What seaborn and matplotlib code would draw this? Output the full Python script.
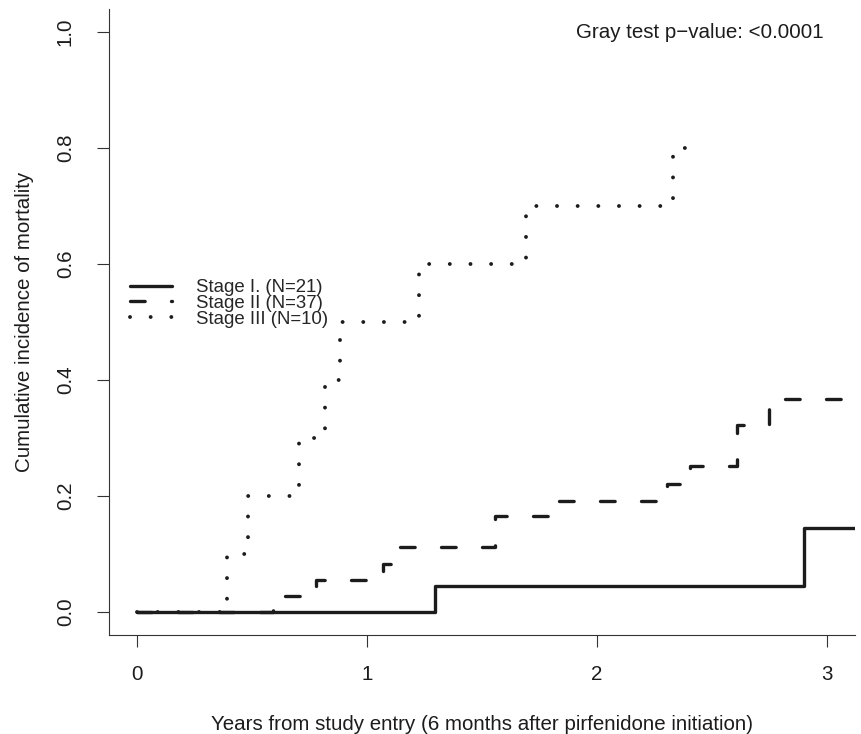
import numpy as np
import pandas as pd
import seaborn as sns
import matplotlib.pyplot as plt

# cumulative incidence step curves (years, CIF)
stage1_time = [0.0, 1.296, 2.90, 3.3]
stage1_cif = [0.0, 0.045, 0.145, 0.145]

stage2_time = [0.0, 0.593, 0.779, 1.071, 1.135, 1.557, 1.826, 2.304, 2.404, 2.606, 2.747, 3.3]
stage2_cif = [0.0, 0.027, 0.055, 0.083, 0.112, 0.165, 0.191, 0.220, 0.252, 0.323, 0.368, 0.368]

stage3_time = [0.0, 0.394, 0.484, 0.704, 0.819, 0.885, 1.226, 1.691, 2.328, 2.45]
stage3_cif = [0.0, 0.1, 0.2, 0.3, 0.4, 0.5, 0.6, 0.7, 0.8, 0.8]

labels = ["Stage I. (N=21)", "Stage II (N=37)", "Stage III (N=10)"]
x_ticks = [0, 1, 2, 3]
y_ticks = [0.0, 0.2, 0.4, 0.6, 0.8, 1.0]

sns.set_style("ticks")
plt.rcParams["font.family"] = ["Liberation Sans", "DejaVu Sans"]
fs = 14.8
plt.rcParams["font.size"] = fs

ink = "#1c1c1c"
fig = plt.figure(figsize=(8.62, 7.34), dpi=100)
ax = fig.add_axes([109 / 862, 1 - 635 / 734, (855 - 109) / 862, (635 - 9) / 734])

styles = ["-", (0, (4.4, 7.9)), (0, (0.01, 5.3))]
widths = [2.4, 2.4, 2.8]
series = [(stage1_time, stage1_cif), (stage2_time, stage2_cif), (stage3_time, stage3_cif)]
for (t, c), lab, ls, w in zip(series, labels, styles, widths):
    df = pd.DataFrame({"time": t, "cif": c})
    sns.lineplot(data=df, x="time", y="cif", ax=ax, drawstyle="steps-post",
                 color=ink, lw=w, linestyle=ls, errorbar=None,
                 dash_capstyle="round", solid_capstyle="round", label=lab)

ax.set_xlim(-0.12, 3.12)
ax.set_ylim(-0.04, 1.04)
ax.set_xticks(x_ticks)
ax.set_xticklabels([str(v) for v in x_ticks])
ax.set_yticks(y_ticks)
ax.set_yticklabels([f"{v:.1f}" for v in y_ticks])
ax.tick_params(axis="both", length=8.6, width=0.8, color="#333333",
               labelsize=fs, labelcolor=ink)
ax.tick_params(axis="x", pad=13)
ax.tick_params(axis="y", pad=16, labelrotation=90)
for lab in ax.get_yticklabels():
    lab.set_va("center")

for side in ["top", "right"]:
    ax.spines[side].set_visible(False)
for side in ["left", "bottom"]:
    ax.spines[side].set_linewidth(0.8)
    ax.spines[side].set_color("#333333")

ax.set_xlabel("Years from study entry (6 months after pirfenidone initiation)",
              fontsize=fs, color=ink, labelpad=22)
ax.set_ylabel("Cumulative incidence of mortality", fontsize=fs, color=ink, labelpad=16)

ax.text(2.983, 1.0, "Gray test p\u2212value: <0.0001", ha="right", va="center",
        fontsize=fs, color=ink)

leg_fs = 13.4
ax.legend(loc="center left", bbox_to_anchor=(0.0282, 0.5296), frameon=False,
          handlelength=2.27, handletextpad=1.27, labelspacing=-0.07,
          borderpad=0, borderaxespad=0, fontsize=leg_fs)

fig.savefig("out.png", dpi=100)
